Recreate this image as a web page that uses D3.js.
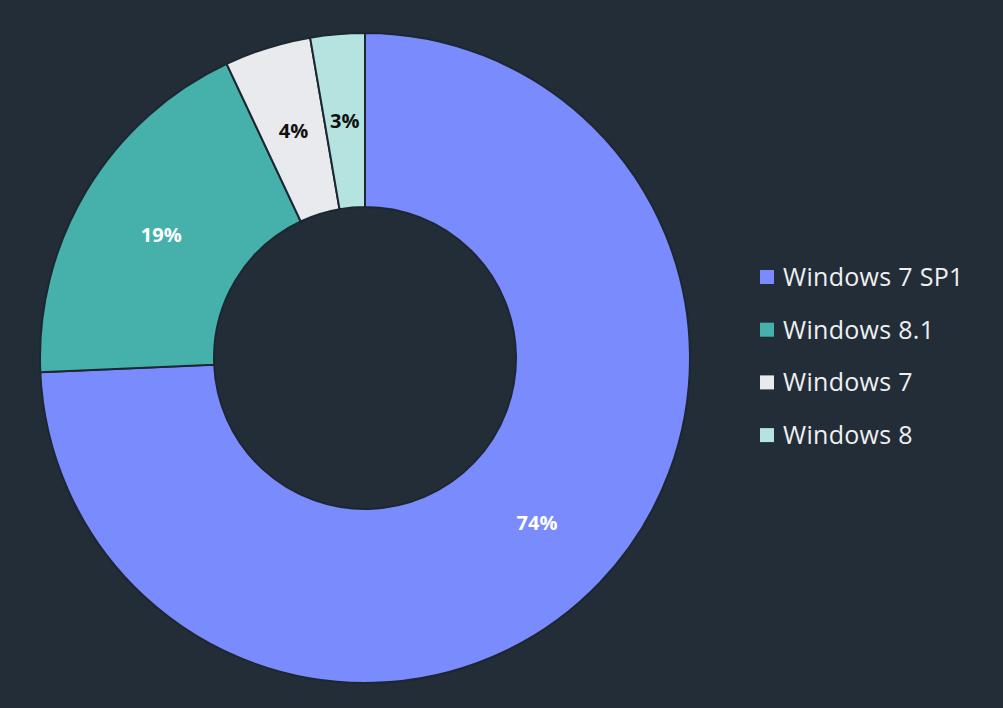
<!DOCTYPE html>
<html>
<head>
<meta charset="utf-8">
<script src="https://cdn.jsdelivr.net/npm/d3@7"></script>
<style>
  html, body { margin: 0; padding: 0; background: #232d38; }
  svg { display: block; }
</style>
</head>
<body>
<svg id="chart"></svg>
<script>
const versions = ["Windows 7 SP1", "Windows 8.1", "Windows 7", "Windows 8"];
// shares; labels show them rounded
const shares = [74.3, 18.7, 4.3, 2.7];
const colours = ["#7a8bfd", "#46b1ab", "#e9eaee", "#b5e3df"];
const labelColours = ["#ffffff", "#ffffff", "#111111", "#111111"];

const width = 1003, height = 708;
const cx = 365, cy = 358;
const outer = 325, inner = 151;

const svg = d3.select("#chart")
    .attr("width", width)
    .attr("height", height);

svg.append("rect")
    .attr("width", width)
    .attr("height", height)
    .attr("fill", "#232d38");

const data = versions.map((v, i) => ({name: v, value: shares[i], colour: colours[i], label: labelColours[i]}));

const pie = d3.pie()
    .value(d => d.value)
    .sort(null);

const arc = d3.arc()
    .innerRadius(inner)
    .outerRadius(outer);

const g = svg.append("g")
    .attr("transform", `translate(${cx}, ${cy})`);

const arcs = pie(data);

g.selectAll(".slice")
    .data(arcs)
    .enter().append("path")
    .attr("class", "slice")
    .attr("d", arc)
    .style("fill", d => d.data.colour)
    .style("stroke", "#1d2732")
    .style("stroke-width", 2);

g.selectAll(".pct")
    .data(arcs)
    .enter().append("text")
    .attr("class", "pct")
    .attr("transform", d => `translate(${arc.centroid(d)})`)
    .attr("text-anchor", "middle")
    .attr("dy", "0.35em")
    .style("font-family", "'Open Sans', sans-serif")
    .style("font-weight", "bold")
    .style("font-size", "20px")
    .style("fill", d => d.data.label)
    .text(d => Math.round(d.data.value) + "%");

// legend
const legend = svg.append("g")
    .attr("transform", "translate(760, 277)");

const rows = legend.selectAll(".row")
    .data(data)
    .enter().append("g")
    .attr("class", "row")
    .attr("transform", (d, i) => `translate(0, ${i * 52.7})`);

rows.append("rect")
    .attr("x", 0)
    .attr("y", -7)
    .attr("width", 14)
    .attr("height", 14)
    .style("fill", d => d.colour);

rows.append("text")
    .attr("x", 23)
    .attr("dy", "0.36em")
    .style("font-family", "'Open Sans', sans-serif")
    .style("font-size", "25px")
    .style("letter-spacing", "0.3px")
    .style("fill", "#eef0f2")
    .text(d => d.name);
</script>
</body>
</html>
